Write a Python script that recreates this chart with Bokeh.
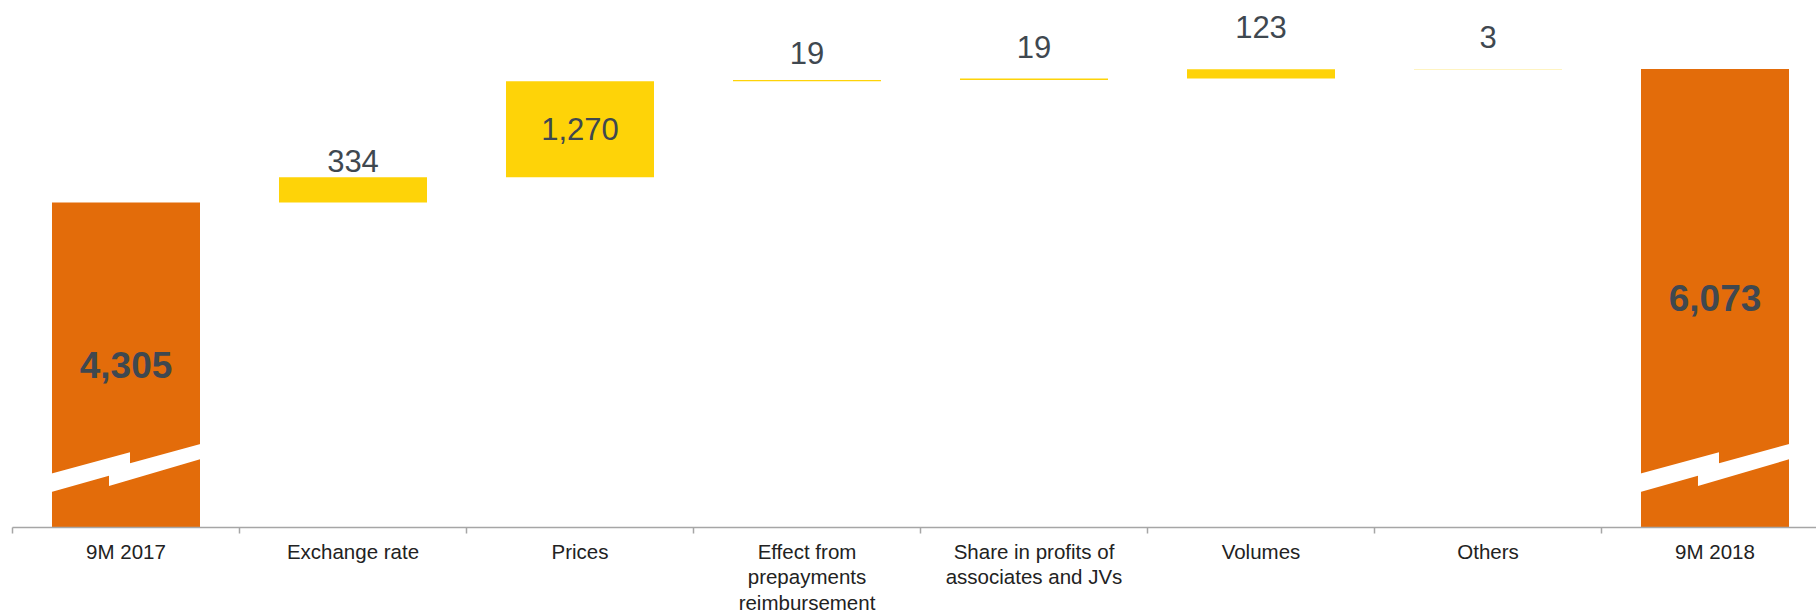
from bokeh.plotting import figure
from bokeh.models import Range1d, LinearAxis, FixedTicker
from bokeh.core.properties import value
from bokeh.embed import file_html
from bokeh.resources import INLINE

# ---------------- data ----------------
categories = ["9M 2017", "Exchange rate", "Prices",
              "Effect from\nprepayments\nreimbursement",
              "Share in profits of\nassociates and JVs",
              "Volumes", "Others", "9M 2018"]
start_total = 4305
changes = [334, 1270, 19, 19, 123, 3]
end_total = 6073
change_labels = ["334", "1,270", "19", "19", "123", "3"]
total_labels = ["4,305", "6,073"]

# ---------------- styling ----------------
ORANGE = "#E36C0A"
YELLOW = "#FED308"
TXT = "#3F4850"
FONT = "Liberation Sans"
BAR_W = 0.652
FRAME_H = 519
PX_PER_UNIT = 0.0755
Y_END = FRAME_H / PX_PER_UNIT
X_END = 1804 / 227
# label gap above bar top (px), per change bar; None = inside bar
label_gap_px = [16, None, 27, 32, 42, 32]
# break symbol shape: x offsets (category units) and y (value units)
break_dx = [-0.36, 0.0176, 0.0176, 0.36, 0.36, -0.075, -0.075, -0.36]
break_y = [690, 996, 850, 1134, 933, 550, 686, 445]

p = figure(width=1816, height=612, frame_height=FRAME_H,
           x_range=Range1d(0, X_END), y_range=Range1d(0, Y_END),
           output_backend="svg", toolbar_location=None,
           min_border_left=12, min_border_right=0, min_border_top=8,
           min_border_bottom=0, x_axis_type=None, y_axis_type=None)
p.outline_line_color = None
p.xgrid.visible = False
p.ygrid.visible = False
p.background_fill_color = "white"
p.border_fill_color = "white"

n = len(categories)
centers = [i + 0.5 for i in range(n)]

# totals
tot_x = [centers[0], centers[-1]]
tot_v = [start_total, end_total]
p.vbar(x=tot_x, width=BAR_W, bottom=0, top=tot_v, fill_color=ORANGE, line_color=None)

# changes
bottoms, tops = [], []
run = start_total
for c in changes:
    bottoms.append(run)
    run += c
    tops.append(run)
ch_x = centers[1:-1]
p.vbar(x=ch_x, width=BAR_W, bottom=bottoms, top=tops, fill_color=YELLOW, line_color=None)

# break symbols
xs = [[cx + dx for dx in break_dx] for cx in tot_x]
ys = [list(break_y) for _ in tot_x]
p.patches(xs=xs, ys=ys, fill_color="white", line_color=None)

# labels for totals (inside, bold)
p.text(x=tot_x, y=[v / 2 for v in tot_v], text=total_labels,
       text_font=value(FONT), text_font_size="37px", text_font_style="bold",
       text_color=TXT, text_align="center", text_baseline="middle")

# labels for changes
lx, ly, lt = [], [], []
for i, (b, t, lab) in enumerate(zip(bottoms, tops, change_labels)):
    gap = label_gap_px[i]
    lx.append(ch_x[i])
    if gap is None:
        ly.append((b + t) / 2)
    else:
        ly.append(t + gap / PX_PER_UNIT)
    lt.append(lab)
p.text(x=lx, y=ly, text=lt, text_font=value(FONT), text_font_size="31px",
       text_color=TXT, text_align="center", text_baseline="middle")

# x axis
ax = LinearAxis(ticker=FixedTicker(ticks=centers, minor_ticks=list(range(n + 1))))
ax.major_label_overrides = {c: lab for c, lab in zip(centers, categories)}
ax.major_tick_line_color = None
ax.minor_tick_line_color = "#A6A6A6"
ax.minor_tick_in = 0
ax.minor_tick_out = 6
ax.minor_tick_line_width = 1.5
ax.axis_line_color = "#A6A6A6"
ax.axis_line_width = 1.5
ax.major_label_standoff = 6
ax.major_label_text_font = FONT
ax.major_label_text_font_size = "20.5px"
ax.major_label_text_color = "#222222"
ax.major_label_text_line_height = 1.12
p.add_layout(ax, "below")

open("out.html", "w").write(file_html(p, INLINE))
